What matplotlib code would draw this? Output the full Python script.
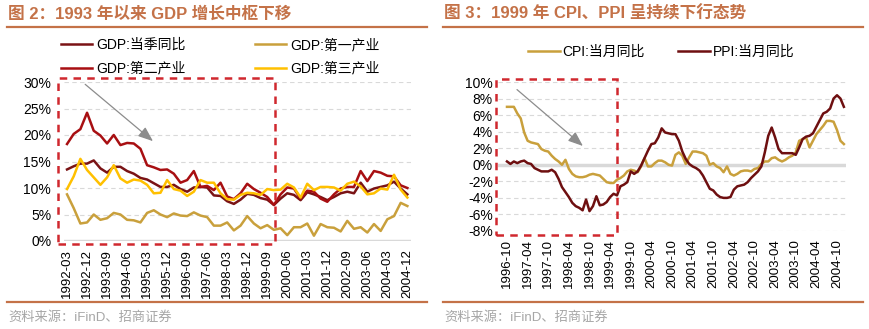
import matplotlib.pyplot as plt
from matplotlib.patches import Rectangle

plt.rcParams['font.family'] = ['Liberation Sans', 'Noto Sans CJK SC', 'DejaVu Sans']
plt.rcParams['axes.unicode_minus'] = False

# 季度 GDP 同比 (%), 1992-03 至 2004-12
quarters = ['1992-03', '1992-06', '1992-09', '1992-12', '1993-03', '1993-06', '1993-09', '1993-12',
            '1994-03', '1994-06', '1994-09', '1994-12', '1995-03', '1995-06', '1995-09', '1995-12',
            '1996-03', '1996-06', '1996-09', '1996-12', '1997-03', '1997-06', '1997-09', '1997-12',
            '1998-03', '1998-06', '1998-09', '1998-12', '1999-03', '1999-06', '1999-09', '1999-12',
            '2000-03', '2000-06', '2000-09', '2000-12', '2001-03', '2001-06', '2001-09', '2001-12',
            '2002-03', '2002-06', '2002-09', '2002-12', '2003-03', '2003-06', '2003-09', '2003-12',
            '2004-03', '2004-06', '2004-09', '2004-12']
gdp_total = [13.5, 14.1, 14.6, 14.6, 15.2, 13.7, 12.9, 14.0, 14.0, 13.2, 12.7, 11.9, 11.6,
             10.9, 10.2, 10.2, 10.6, 9.8, 9.3, 10.1, 10.2, 10.1, 8.6, 8.5, 7.5, 7.0, 7.8,
             8.9, 8.7, 8.1, 7.8, 6.8, 8.0, 9.0, 8.7, 7.7, 9.2, 8.8, 8.3, 7.7, 8.3, 9.0,
             9.3, 9.0, 11.0, 9.3, 9.9, 10.2, 10.5, 11.2, 9.9, 8.8]
gdp_primary = [8.8, 6.2, 3.3, 3.5, 5.0, 4.0, 4.3, 5.3, 5.0, 4.0, 3.9, 3.5, 5.3, 5.8, 5.0,
               4.5, 5.2, 4.8, 4.7, 5.4, 4.8, 4.5, 2.9, 2.9, 3.5, 2.0, 2.9, 4.7, 3.3, 2.4,
               3.0, 2.1, 2.4, 1.1, 2.6, 2.6, 3.3, 1.0, 3.2, 2.6, 2.5, 1.8, 3.8, 2.3, 2.6,
               1.6, 3.2, 1.9, 4.1, 4.7, 7.2, 6.6]
gdp_secondary = [18.3, 20.2, 21.1, 24.2, 20.8, 19.9, 18.4, 20.0, 18.1, 18.5, 18.4, 17.4, 14.3,
                 13.9, 13.4, 13.5, 12.7, 11.0, 11.5, 13.2, 10.2, 10.4, 9.6, 11.0, 8.4, 7.9,
                 9.0, 10.8, 9.8, 9.1, 8.3, 6.8, 8.8, 10.1, 9.9, 8.0, 9.5, 9.3, 8.0, 7.4, 8.8,
                 9.9, 10.2, 10.2, 13.2, 11.3, 13.2, 12.9, 12.3, 12.2, 10.5, 10.0]
gdp_tertiary = [9.8, 12.2, 15.5, 13.4, 12.0, 10.6, 12.0, 14.3, 11.8, 11.0, 11.6, 11.4, 10.6,
                9.0, 9.1, 11.5, 9.8, 9.5, 8.5, 9.3, 11.5, 11.0, 11.0, 9.0, 7.9, 7.8, 8.7,
                9.1, 9.0, 8.7, 9.8, 9.6, 9.7, 10.8, 10.1, 8.2, 10.8, 9.6, 10.2, 10.2, 10.1,
                9.5, 10.8, 11.2, 10.3, 8.8, 9.0, 9.9, 9.7, 12.5, 9.7, 8.2]

# 月度 CPI / PPI 同比 (%), 1996-10 至 2004-12
months = [f'{1996 + (9 + k) // 12}-{(9 + k) % 12 + 1:02d}' for k in range(99)]
cpi = [7.0, 7.0, 7.0, 6.2, 5.6, 3.9, 2.9, 2.7, 2.6, 2.5, 1.9, 1.7, 1.6, 1.1, 0.7, 0.4, 0.0,
       0.6, -0.5, -1.1, -1.4, -1.5, -1.5, -1.4, -1.2, -1.1, -1.2, -1.3, -1.7, -2.1, -2.2,
       -2.2, -1.8, -1.6, -1.3, -0.8, -0.6, -0.7, -0.9, -0.2, 0.8, -0.2, -0.2, 0.2, 0.5,
       0.5, 0.3, 0.0, -0.1, 1.2, 1.5, 1.1, 0.1, 0.9, 1.6, 1.6, 1.5, 1.4, 1.1, 0.0, 0.2,
       -0.2, -0.4, -0.9, -0.2, -1.1, -1.3, -1.1, -0.8, -0.7, -0.7, -0.8, -0.5, -0.4, 0.1,
       0.4, 0.4, 0.8, 0.9, 0.6, 0.4, 0.6, 0.9, 1.1, 1.5, 2.9, 3.1, 3.3, 2.1, 2.9, 3.7,
       4.2, 4.7, 5.3, 5.3, 5.2, 4.2, 2.9, 2.5]
ppi = [0.4, 0.1, 0.4, 0.2, 0.4, 0.5, 0.2, 0.1, -0.4, -0.6, -0.8, -0.8, -0.8, -0.6, -0.9,
       -1.7, -2.7, -3.3, -3.9, -4.6, -5.0, -5.2, -5.5, -4.2, -5.6, -5.0, -3.8, -4.9, -4.8,
       -4.5, -3.9, -3.5, -3.7, -2.6, -2.4, -2.1, -0.8, -1.1, -0.8, -0.1, 0.8, 1.7, 2.5,
       2.6, 3.3, 4.4, 3.9, 3.8, 3.7, 3.7, 2.9, 1.6, 0.7, 0.1, -0.2, -0.4, -0.7, -1.3,
       -2.1, -2.9, -3.1, -3.6, -3.9, -4.0, -4.0, -3.9, -3.0, -2.6, -2.5, -2.4, -2.1, -1.6,
       -1.2, -0.8, -0.2, 1.5, 3.5, 4.5, 3.3, 1.9, 1.4, 1.4, 1.4, 1.4, 1.2, 2.1, 3.1, 3.4,
       3.5, 3.8, 4.6, 5.4, 6.2, 6.4, 6.8, 8.0, 8.4, 8.0, 7.0]

title_color = '#C47248'
box_color = '#D0282E'
grid_color = '#D9D9D9'


def style_axes(ax):
    for s in ax.spines.values():
        s.set_visible(False)
    ax.grid(axis='y', color=grid_color, linestyle=(0, (4, 3)), linewidth=0.8)
    ax.set_axisbelow(True)
    ax.tick_params(axis='both', length=0, labelsize=10)
    ax.tick_params(axis='x', labelsize=9.5, rotation=90, pad=6)


fig = plt.figure(figsize=(8.7, 3.29), dpi=100)
W, H = 870, 329


def px(x, y):
    return x / W, 1 - y / H


# 标题、分隔线与来源
for x0, title in [(8, '图 2：1993 年以来 GDP 增长中枢下移'),
                  (444, '图 3：1999 年 CPI、PPI 呈持续下行态势')]:
    fig.text(*px(x0, 14), title, color=title_color, fontsize=12, fontweight='bold',
             va='center', ha='left')
    fig.add_artist(plt.Line2D([px(x0 - 1, 0)[0], px(x0 + 419, 0)[0]], [px(0, 27)[1]] * 2,
                              color=title_color, lw=1.6))
    fig.add_artist(plt.Line2D([px(x0 - 1, 0)[0], px(x0 + 419, 0)[0]], [px(0, 302)[1]] * 2,
                              color=title_color, lw=1.6))
    fig.text(*px(x0, 318), '资料来源：iFinD、招商证券', color='#A6A6A6', fontsize=9.5,
             va='center', ha='left')

# 左图：GDP
ax1 = fig.add_axes([63.7 / W, 1 - 241 / H, 347 / W, 159 / H])
style_axes(ax1)
xq = range(len(quarters))
ax1.plot(xq, gdp_total, color='#7A1315', lw=1.8, label='GDP:当季同比')
ax1.plot(xq, gdp_secondary, color='#A80F12', lw=1.8, label='GDP:第二产业')
ax1.plot(xq, gdp_primary, color='#C9A03C', lw=1.8, label='GDP:第一产业')
ax1.plot(xq, gdp_tertiary, color='#FFC000', lw=1.8, label='GDP:第三产业')
ax1.axhline(0, color=grid_color, lw=2.5, zorder=1)
ax1.set_xlim(-0.5, len(quarters) - 0.5)
ax1.set_ylim(0, 30)
ax1.set_yticks(range(0, 31, 5))
ax1.set_yticklabels([f'{v}%' for v in range(0, 31, 5)])
ax1.tick_params(axis='y', pad=9)
ax1.set_xticks(list(xq)[::3])
ax1.set_xticklabels(quarters[::3])
ax1.add_patch(Rectangle((-1.35, -0.55), 32.55, 31.25, fill=False, edgecolor=box_color,
                        lw=1.8, linestyle=(0, (3, 2.5)), clip_on=False, zorder=5))
ax1.annotate('', xy=(13.2, 18.5), xytext=(2.4, 29.9),
             arrowprops=dict(arrowstyle='-|>,head_length=0.9,head_width=0.35',
                             color='#8C8C8C', lw=0.9))
ax1.legend(ncol=2, loc='upper left', bbox_to_anchor=px(61, 38), bbox_transform=fig.transFigure,
           frameon=False, fontsize=10, handlelength=2.2, handletextpad=0.35,
           columnspacing=5.0, labelspacing=0.7, borderpad=0, borderaxespad=0)

# 右图：CPI / PPI
ax2 = fig.add_axes([498.4 / W, 1 - 231 / H, 347.2 / W, 149 / H])
style_axes(ax2)
xm = range(len(months))
ax2.plot(xm, cpi, color='#C9A03C', lw=1.8, label='CPI:当月同比')
ax2.plot(xm, ppi, color='#6E0F10', lw=1.8, label='PPI:当月同比')
ax2.axhline(0, color=grid_color, lw=2.5, zorder=1)
ax2.set_xlim(-2.5, 98.5)
ax2.set_ylim(-8, 10)
ax2.set_yticks(range(-8, 11, 2))
ax2.set_yticklabels([f'{v}%' for v in range(-8, 11, 2)])
ax2.tick_params(axis='y', pad=4)
ax2.set_xticks(list(xm)[:97:6])
ax2.set_xticklabels(months[:97:6])
ax2.add_patch(Rectangle((-3.2, -8.45), 35.2, 18.85, fill=False, edgecolor=box_color,
                        lw=1.8, linestyle=(0, (3, 2.5)), clip_on=False, zorder=5))
ax2.annotate('', xy=(22.7, 2.05), xytext=(2.3, 9.3),
             arrowprops=dict(arrowstyle='-|>,head_length=0.9,head_width=0.35',
                             color='#8C8C8C', lw=0.9))
ax2.legend(ncol=2, loc='upper left', bbox_to_anchor=px(528, 45), bbox_transform=fig.transFigure,
           frameon=False, fontsize=10, handlelength=2.3, handletextpad=0.2,
           columnspacing=2.4, borderpad=0, borderaxespad=0)

fig.savefig('out.png', dpi=100)
